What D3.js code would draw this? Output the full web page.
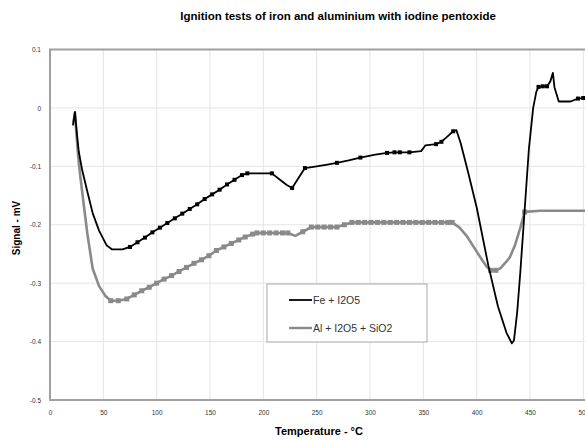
<!DOCTYPE html>
<html>
<head>
<meta charset="utf-8">
<script src="https://cdn.jsdelivr.net/npm/d3@7"></script>
<style>
  body { margin: 0; background: #fff; }
  svg { display: block; font-family: "Liberation Sans", Arial, sans-serif; }
</style>
</head>
<body>
<div id="chart"></div>
<script>
// [temperature °C, signal mV, marker]
const feData = [
  [21.5, -0.03, 0], [23.4, -0.007, 0], [25, -0.04, 0], [27, -0.075, 0], [30, -0.105, 0],
  [34.7, -0.141, 0], [40, -0.18, 0], [46, -0.21, 0], [53, -0.235, 0], [58, -0.242, 0], [68, -0.242, 0],
  [75, -0.238, 1], [82, -0.23, 1], [89, -0.222, 1], [96, -0.213, 1], [103, -0.205, 1], [110, -0.197, 1],
  [117, -0.189, 1], [124, -0.181, 1], [131, -0.173, 1], [138, -0.165, 1], [145, -0.156, 1], [152, -0.148, 1],
  [159, -0.14, 1], [166, -0.131, 1], [173, -0.123, 1], [180, -0.115, 1], [185, -0.112, 1], [200, -0.112, 0],
  [208, -0.112, 1], [215, -0.122, 0], [222, -0.132, 0], [227, -0.137, 1], [233, -0.12, 0], [239, -0.103, 1],
  [250, -0.1, 0], [260, -0.097, 0], [269, -0.094, 1], [280, -0.09, 0], [291, -0.085, 1], [305, -0.08, 0],
  [316, -0.077, 1], [323, -0.076, 1], [328, -0.076, 1], [337, -0.076, 1], [348, -0.074, 0], [352, -0.064, 0],
  [362, -0.062, 1], [367, -0.058, 1], [372, -0.05, 0], [378, -0.04, 1], [381, -0.038, 0], [385, -0.06, 0],
  [392, -0.11, 0], [400, -0.17, 0], [411, -0.27, 0], [420, -0.34, 0], [428, -0.385, 0], [433, -0.403, 0],
  [435, -0.398, 0], [438, -0.35, 0], [441, -0.28, 0], [445, -0.175, 0], [449, -0.07, 0], [453, 0.0, 0],
  [456, 0.028, 0], [458, 0.036, 1], [462, 0.037, 1], [466, 0.037, 1], [469, 0.045, 0], [471.5, 0.06, 0],
  [473, 0.035, 0], [477, 0.011, 0], [488, 0.011, 0], [495, 0.016, 1], [500, 0.017, 1], [515, 0.017, 0]
];

const alData = [
  [22, -0.025, 0], [23.4, -0.008, 0], [25, -0.05, 0], [27, -0.095, 0], [30, -0.141, 0], [35, -0.215, 0],
  [40, -0.275, 0], [46, -0.305, 0], [52, -0.322, 0], [57, -0.33, 1], [64, -0.33, 1], [72, -0.327, 1],
  [79, -0.32, 1], [86, -0.313, 1], [93, -0.307, 1], [100, -0.3, 1], [107, -0.293, 1], [114, -0.287, 1],
  [121, -0.28, 1], [128, -0.273, 1], [135, -0.266, 1], [142, -0.26, 1], [149, -0.253, 1], [156, -0.244, 1],
  [163, -0.238, 1], [170, -0.232, 1], [177, -0.226, 1], [183, -0.221, 1], [190, -0.216, 1], [194, -0.214, 1],
  [200, -0.214, 1], [206, -0.214, 1], [212, -0.214, 1], [218, -0.214, 1], [223, -0.214, 1], [230, -0.219, 0],
  [237, -0.212, 1], [245, -0.204, 1], [251, -0.204, 1], [257, -0.204, 1], [263, -0.204, 1], [269, -0.204, 1],
  [276, -0.2, 1], [283, -0.196, 1], [289, -0.196, 1], [295, -0.196, 1], [301, -0.196, 1], [307, -0.196, 1],
  [313, -0.196, 1], [319, -0.196, 1], [325, -0.196, 1], [331, -0.196, 1], [337, -0.196, 1], [343, -0.196, 1],
  [349, -0.196, 1], [355, -0.196, 1], [361, -0.196, 1], [367, -0.196, 1], [373, -0.196, 1], [377, -0.196, 1],
  [384, -0.205, 0], [391, -0.22, 0], [398, -0.24, 0], [405, -0.26, 0], [410, -0.273, 0], [413, -0.278, 1],
  [418, -0.278, 1], [422, -0.275, 0], [427, -0.265, 0], [431, -0.256, 0], [436, -0.235, 0], [441, -0.205, 0],
  [445, -0.178, 1], [460, -0.176, 0], [480, -0.176, 0], [500, -0.176, 0], [515, -0.176, 0]
];

const xTicks = [0, 50, 100, 150, 200, 250, 300, 350, 400, 450, 500];
const yTicks = [0.1, 0, -0.1, -0.2, -0.3, -0.4, -0.5];
const seriesNames = ["Fe + I2O5", "Al + I2O5 + SiO2"];

const width = 585, height = 440;
const plot = {left: 50, top: 49.5, right: 625, bottom: 400};

const svg = d3.select("#chart").append("svg")
  .attr("width", width)
  .attr("height", height);

const x = d3.scaleLinear().domain([0, 500]).range([plot.left, 583.3]);
const y = d3.scaleLinear().domain([-0.5, 0.1]).range([plot.bottom, plot.top]);

// gridlines
svg.append("g")
  .selectAll("line.vg")
  .data(xTicks.slice(1))
  .enter().append("line")
  .attr("x1", d => x(d)).attr("x2", d => x(d))
  .attr("y1", plot.top).attr("y2", plot.bottom)
  .attr("stroke", "#e4e4e4").attr("stroke-width", 1);

svg.append("g")
  .selectAll("line.hg")
  .data(yTicks.slice(1, -1))
  .enter().append("line")
  .attr("x1", plot.left).attr("x2", plot.right)
  .attr("y1", d => y(d)).attr("y2", d => y(d))
  .attr("stroke", "#e4e4e4").attr("stroke-width", 1);

// frame
svg.append("rect")
  .attr("x", plot.left).attr("y", plot.top)
  .attr("width", plot.right - plot.left).attr("height", plot.bottom - plot.top)
  .attr("fill", "none").attr("stroke", "#a0a0a0").attr("stroke-width", 2);

// axes
const xAxis = svg.append("g")
  .attr("transform", `translate(0, ${plot.bottom})`)
  .call(d3.axisBottom(x).tickValues(xTicks).tickSize(0).tickPadding(10).tickFormat(d3.format("d")));
const yAxis = svg.append("g")
  .attr("transform", `translate(${plot.left}, 0)`)
  .call(d3.axisLeft(y).tickValues(yTicks).tickSize(0).tickPadding(9).tickFormat(d => d === 0 ? "0" : String(d)));
[xAxis, yAxis].forEach(a => {
  a.select(".domain").remove();
  a.selectAll("text").attr("fill", "#333").style("font-size", "6.5px");
});

// series
const line = d3.line().x(d => x(d[0])).y(d => y(d[1]));

svg.append("path")
  .datum(alData)
  .attr("d", line)
  .attr("fill", "none").attr("stroke", "#8a8a8a").attr("stroke-width", 2.6)
  .attr("stroke-linejoin", "round");
svg.append("g").selectAll("rect")
  .data(alData.filter(d => d[2]))
  .enter().append("rect")
  .attr("x", d => x(d[0]) - 2.5).attr("y", d => y(d[1]) - 2.5)
  .attr("width", 5).attr("height", 5)
  .attr("fill", "#8a8a8a");

svg.append("path")
  .datum(feData)
  .attr("d", line)
  .attr("fill", "none").attr("stroke", "#000").attr("stroke-width", 1.8)
  .attr("stroke-linejoin", "round");
svg.append("g").selectAll("rect")
  .data(feData.filter(d => d[2]))
  .enter().append("rect")
  .attr("x", d => x(d[0]) - 2).attr("y", d => y(d[1]) - 2)
  .attr("width", 4).attr("height", 4)
  .attr("fill", "#000");

// legend
const lg = svg.append("g");
lg.append("rect")
  .attr("x", 267).attr("y", 284).attr("width", 160).attr("height", 58)
  .attr("fill", "#fff").attr("stroke", "#a8a8a8").attr("stroke-width", 1);
const lgColors = ["#000", "#8a8a8a"];
seriesNames.forEach((name, i) => {
  const ly = 300 + i * 28;
  lg.append("line")
    .attr("x1", 289).attr("x2", 312).attr("y1", ly).attr("y2", ly)
    .attr("stroke", lgColors[i]).attr("stroke-width", i ? 2.4 : 1.8);
  lg.append("text")
    .attr("x", 313).attr("y", ly).attr("dy", "0.35em")
    .attr("fill", "#333").style("font-size", "10.5px")
    .text(name);
});

// titles
svg.append("text")
  .attr("x", 338).attr("y", 16).attr("dy", "0.35em")
  .attr("text-anchor", "middle")
  .style("font-size", "11.5px").style("font-weight", "bold")
  .text("Ignition tests of iron and aluminium with iodine pentoxide");

svg.append("text")
  .attr("x", 319).attr("y", 431).attr("dy", "0.35em")
  .attr("text-anchor", "middle")
  .style("font-size", "11px").style("font-weight", "bold")
  .text("Temperature - °C");

svg.append("text")
  .attr("transform", "translate(16, 228) rotate(-90)")
  .attr("dy", "0.35em")
  .attr("text-anchor", "middle")
  .style("font-size", "10px").style("font-weight", "bold")
  .text("Signal - mV");
</script>
</body>
</html>
